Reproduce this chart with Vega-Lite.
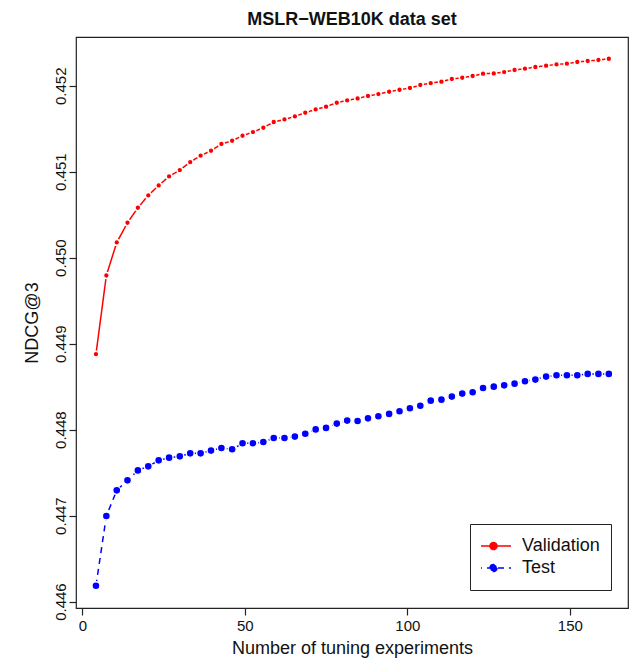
{
  "$schema": "https://vega.github.io/schema/vega-lite/v6.json",
  "width": 552,
  "height": 571,
  "autosize": {"type": "none"},
  "padding": {"left": 76, "top": 37, "right": 7, "bottom": 53},
  "background": "white",
  "config": {
    "font": "Liberation Sans",
    "view": {"stroke": "#222", "strokeWidth": 1.2},
    "axis": {"grid": false, "domain": false, "tickColor": "#222", "tickSize": 7, "tickWidth": 1.2, "labelFontSize": 15, "titleFontSize": 18, "labelColor": "#111", "titleColor": "#111", "titleFontWeight": "normal"}
  },
  "title": {"text": "MSLR−WEB10K data set", "fontSize": 18, "fontWeight": "bold", "font": "Liberation Sans", "color": "#111", "anchor": "middle", "frame": "group", "offset": 8},
  "data": {"values": [
    {"x": 4.2, "series": "Validation", "y": 0.448878},
    {"x": 7.4, "series": "Validation", "y": 0.449793},
    {"x": 10.6, "series": "Validation", "y": 0.450177},
    {"x": 13.9, "series": "Validation", "y": 0.450406},
    {"x": 17.1, "series": "Validation", "y": 0.450581},
    {"x": 20.3, "series": "Validation", "y": 0.450724},
    {"x": 23.5, "series": "Validation", "y": 0.45084},
    {"x": 26.7, "series": "Validation", "y": 0.450945},
    {"x": 30.0, "series": "Validation", "y": 0.451019},
    {"x": 33.2, "series": "Validation", "y": 0.451112},
    {"x": 36.4, "series": "Validation", "y": 0.451186},
    {"x": 39.6, "series": "Validation", "y": 0.451244},
    {"x": 42.8, "series": "Validation", "y": 0.451322},
    {"x": 46.1, "series": "Validation", "y": 0.45136},
    {"x": 49.3, "series": "Validation", "y": 0.451418},
    {"x": 52.5, "series": "Validation", "y": 0.451461},
    {"x": 55.7, "series": "Validation", "y": 0.451511},
    {"x": 58.9, "series": "Validation", "y": 0.451578},
    {"x": 62.2, "series": "Validation", "y": 0.451608},
    {"x": 65.4, "series": "Validation", "y": 0.451643},
    {"x": 68.6, "series": "Validation", "y": 0.451686},
    {"x": 71.8, "series": "Validation", "y": 0.451724},
    {"x": 75.0, "series": "Validation", "y": 0.451756},
    {"x": 78.3, "series": "Validation", "y": 0.451802},
    {"x": 81.5, "series": "Validation", "y": 0.451829},
    {"x": 84.7, "series": "Validation", "y": 0.451852},
    {"x": 87.9, "series": "Validation", "y": 0.45188},
    {"x": 91.1, "series": "Validation", "y": 0.451903},
    {"x": 94.4, "series": "Validation", "y": 0.45193},
    {"x": 97.6, "series": "Validation", "y": 0.451953},
    {"x": 100.8, "series": "Validation", "y": 0.451973},
    {"x": 104.0, "series": "Validation", "y": 0.452008},
    {"x": 107.2, "series": "Validation", "y": 0.452031},
    {"x": 110.5, "series": "Validation", "y": 0.452047},
    {"x": 113.7, "series": "Validation", "y": 0.452078},
    {"x": 116.9, "series": "Validation", "y": 0.452093},
    {"x": 120.1, "series": "Validation", "y": 0.452113},
    {"x": 123.3, "series": "Validation", "y": 0.45214},
    {"x": 126.6, "series": "Validation", "y": 0.452143},
    {"x": 129.8, "series": "Validation", "y": 0.452159},
    {"x": 133.0, "series": "Validation", "y": 0.452183},
    {"x": 136.2, "series": "Validation", "y": 0.452198},
    {"x": 139.4, "series": "Validation", "y": 0.452218},
    {"x": 142.7, "series": "Validation", "y": 0.452233},
    {"x": 145.9, "series": "Validation", "y": 0.452248},
    {"x": 149.1, "series": "Validation", "y": 0.452256},
    {"x": 152.3, "series": "Validation", "y": 0.452276},
    {"x": 155.5, "series": "Validation", "y": 0.452287},
    {"x": 158.8, "series": "Validation", "y": 0.452299},
    {"x": 162.0, "series": "Validation", "y": 0.452314},
    {"x": 4.2, "series": "Test", "y": 0.446185},
    {"x": 7.4, "series": "Test", "y": 0.446996},
    {"x": 10.6, "series": "Test", "y": 0.447294},
    {"x": 13.9, "series": "Test", "y": 0.44741},
    {"x": 17.1, "series": "Test", "y": 0.447526},
    {"x": 20.3, "series": "Test", "y": 0.447573},
    {"x": 23.5, "series": "Test", "y": 0.447643},
    {"x": 26.7, "series": "Test", "y": 0.447674},
    {"x": 30.0, "series": "Test", "y": 0.447689},
    {"x": 33.2, "series": "Test", "y": 0.447724},
    {"x": 36.4, "series": "Test", "y": 0.447724},
    {"x": 39.6, "series": "Test", "y": 0.447756},
    {"x": 42.8, "series": "Test", "y": 0.447787},
    {"x": 46.1, "series": "Test", "y": 0.447771},
    {"x": 49.3, "series": "Test", "y": 0.447841},
    {"x": 52.5, "series": "Test", "y": 0.447841},
    {"x": 55.7, "series": "Test", "y": 0.447857},
    {"x": 58.9, "series": "Test", "y": 0.447903},
    {"x": 62.2, "series": "Test", "y": 0.447903},
    {"x": 65.4, "series": "Test", "y": 0.447919},
    {"x": 68.6, "series": "Test", "y": 0.447953},
    {"x": 71.8, "series": "Test", "y": 0.448003},
    {"x": 75.0, "series": "Test", "y": 0.44802},
    {"x": 78.3, "series": "Test", "y": 0.44807},
    {"x": 81.5, "series": "Test", "y": 0.448105},
    {"x": 84.7, "series": "Test", "y": 0.448101},
    {"x": 87.9, "series": "Test", "y": 0.448131},
    {"x": 91.1, "series": "Test", "y": 0.448155},
    {"x": 94.4, "series": "Test", "y": 0.448183},
    {"x": 97.6, "series": "Test", "y": 0.448213},
    {"x": 100.8, "series": "Test", "y": 0.448249},
    {"x": 104.0, "series": "Test", "y": 0.448277},
    {"x": 107.2, "series": "Test", "y": 0.448337},
    {"x": 110.5, "series": "Test", "y": 0.448349},
    {"x": 113.7, "series": "Test", "y": 0.448384},
    {"x": 116.9, "series": "Test", "y": 0.448419},
    {"x": 120.1, "series": "Test", "y": 0.448434},
    {"x": 123.3, "series": "Test", "y": 0.448485},
    {"x": 126.6, "series": "Test", "y": 0.4485},
    {"x": 129.8, "series": "Test", "y": 0.448515},
    {"x": 133.0, "series": "Test", "y": 0.448535},
    {"x": 136.2, "series": "Test", "y": 0.448562},
    {"x": 139.4, "series": "Test", "y": 0.448582},
    {"x": 142.7, "series": "Test", "y": 0.448617},
    {"x": 145.9, "series": "Test", "y": 0.448632},
    {"x": 149.1, "series": "Test", "y": 0.448632},
    {"x": 152.3, "series": "Test", "y": 0.448632},
    {"x": 155.5, "series": "Test", "y": 0.448648},
    {"x": 158.8, "series": "Test", "y": 0.448648},
    {"x": 162.0, "series": "Test", "y": 0.448648}
  ]},
  "encoding": {
    "x": {"field": "x", "type": "quantitative",
      "scale": {"domain": [-1.94, 167.9], "nice": false, "zero": false},
      "axis": {"values": [0, 50, 100, 150], "title": "Number of tuning experiments", "labelPadding": 3, "titlePadding": 6}},
    "y": {"field": "y", "type": "quantitative",
      "scale": {"domain": [0.4459255, 0.4525666], "nice": false, "zero": false},
      "axis": {"values": [0.446, 0.447, 0.448, 0.449, 0.45, 0.451, 0.452], "format": ".3f", "labelAngle": 270, "labelAlign": "center", "labelBaseline": "alphabetic", "labelPadding": 4, "title": "NDCG@3", "titlePadding": 12}},
    "color": {"field": "series", "type": "nominal",
      "scale": {"domain": ["Validation", "Test"], "range": ["#ff0000", "#0000ff"]},
      "legend": {"title": null, "orient": "none", "legendX": 394, "legendY": 487,
        "symbolType": "M-1,0L1,0M0.2,0A0.2,0.2,0,1,1,-0.2,0A0.2,0.2,0,1,1,0.2,0Z",
        "symbolSize": 1225, "symbolStrokeWidth": 1.5, "symbolOffset": -6, "clipHeight": 22,
        "labelFontSize": 18, "labelColor": "#111", "labelOffset": 10, "padding": 11, "rowPadding": 0, "strokeColor": "#222",
        "encode": {"symbols": {"update": {"fill": {"scale": "color", "field": "value"}}}}}}
  },
  "layer": [
    {
      "mark": {"type": "line", "strokeWidth": 1.5},
      "encoding": {
        "strokeDash": {"field": "series", "type": "nominal",
          "scale": {"domain": ["Validation", "Test"], "range": [[1, 0], [6, 5]]},
          "legend": {"title": null}}
      }
    },
    {
      "transform": [{"filter": "datum.series === 'Validation'"}],
      "mark": {"type": "point", "filled": true, "opacity": 1, "size": 34, "stroke": "white", "strokeWidth": 1.5, "strokeOpacity": 1}
    },
    {
      "transform": [{"filter": "datum.series === 'Test'"}],
      "mark": {"type": "point", "filled": true, "opacity": 1, "size": 64, "stroke": "white", "strokeWidth": 1.4, "strokeOpacity": 1}
    }
  ]
}
